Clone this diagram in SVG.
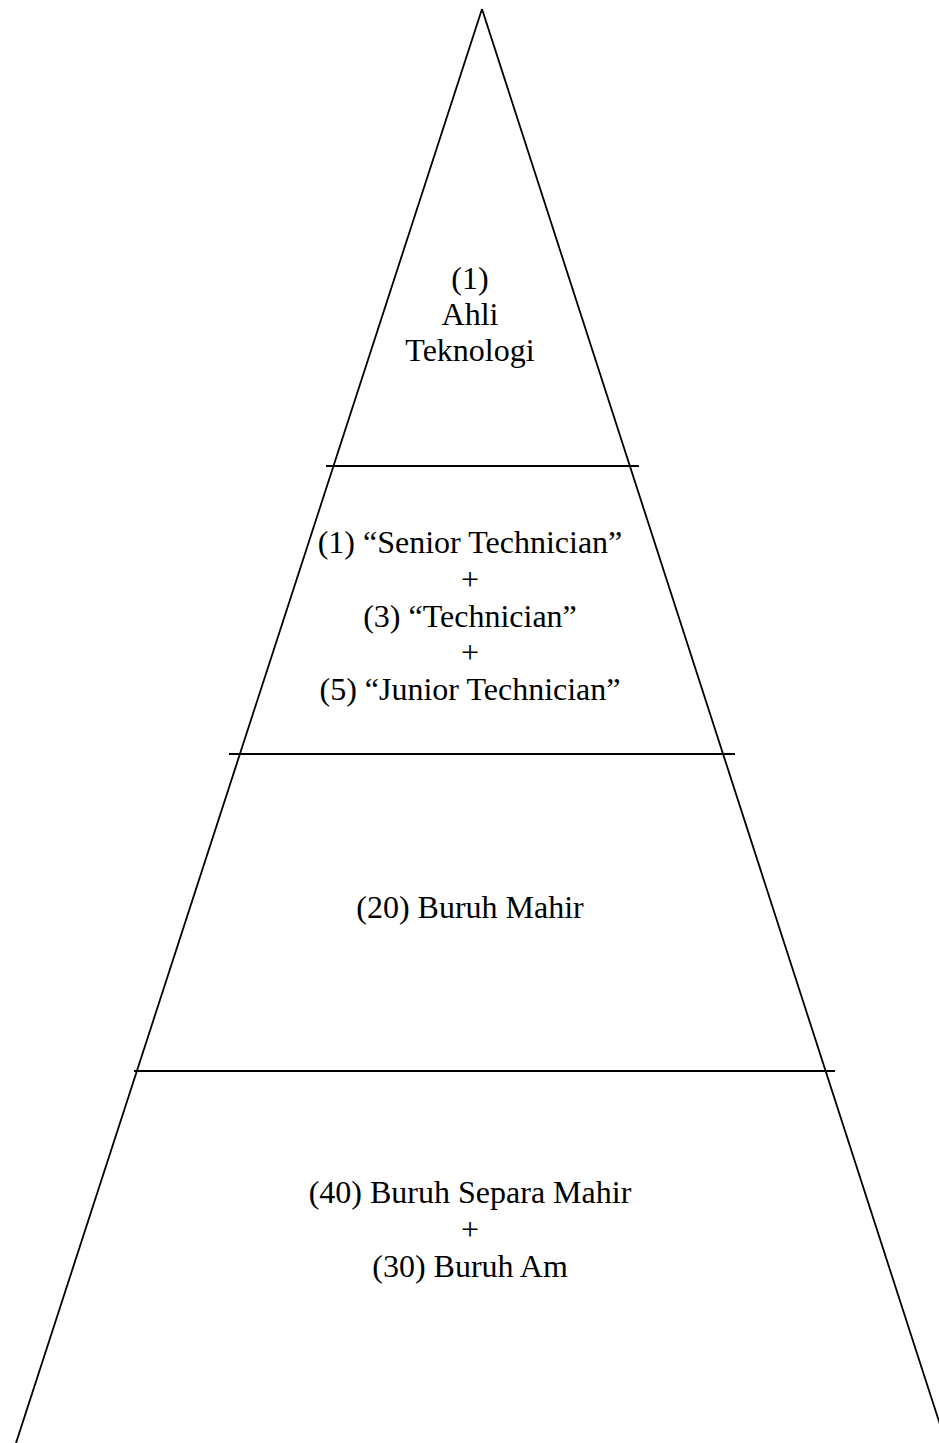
<svg xmlns="http://www.w3.org/2000/svg" width="939" height="1443" viewBox="0 0 939 1443">
<style>
.ln{stroke:#000;stroke-width:1.8;fill:none;stroke-linecap:butt}
.t{font-family:"Liberation Serif","Times New Roman",serif;font-size:32px;fill:#000;text-anchor:middle}
</style>
<rect width="939" height="1443" fill="#fff"/>
<g id="connectors">
<line class="ln" x1="482" y1="9" x2="16" y2="1443"/>
<line class="ln" x1="482" y1="9" x2="946" y2="1443"/>
<line class="ln" x1="326" y1="466" x2="639" y2="466"/>
<line class="ln" x1="229" y1="754" x2="735" y2="754"/>
<line class="ln" x1="134" y1="1071" x2="835" y2="1071"/>
</g>
<g id="tier1">
<text class="t" x="470" y="289">(1)</text>
<text class="t" x="470" y="325">Ahli</text>
<text class="t" x="470" y="361">Teknologi</text>
</g>
<g id="tier2">
<text class="t" x="470" y="553">(1) “Senior Technician”</text>
<text class="t" x="470" y="590">+</text>
<text class="t" x="470" y="627">(3) “Technician”</text>
<text class="t" x="470" y="663">+</text>
<text class="t" x="470" y="700">(5) “Junior Technician”</text>
</g>
<g id="tier3">
<text class="t" x="470" y="918">(20) Buruh Mahir</text>
</g>
<g id="tier4">
<text class="t" x="470" y="1203">(40) Buruh Separa Mahir</text>
<text class="t" x="470" y="1240">+</text>
<text class="t" x="470" y="1277">(30) Buruh Am</text>
</g>
</svg>
